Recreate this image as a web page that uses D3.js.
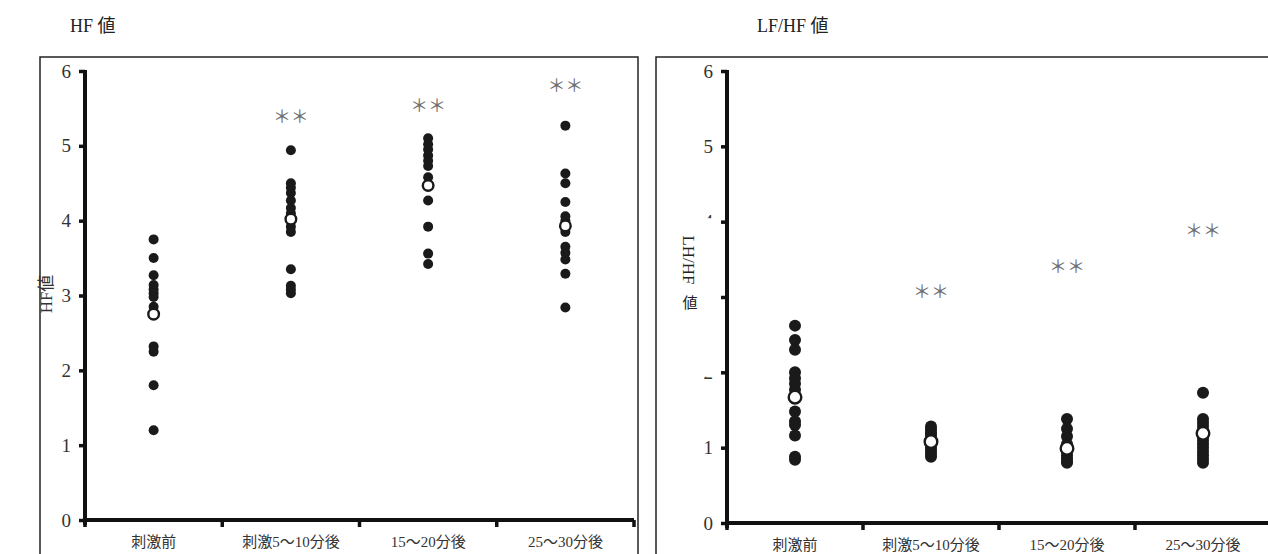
<!DOCTYPE html>
<html>
<head>
<meta charset="utf-8">
<script src="https://cdn.jsdelivr.net/npm/d3@7"></script>
<style>
  body { margin: 0; background: #fff; }
  svg { display: block; font-family: "Liberation Serif", "DejaVu Serif", "Noto Sans CJK JP", serif; }
</style>
</head>
<body>
<svg id="chart" width="1268" height="554"></svg>
<script>
// categories and ticks
const categories = ["刺激前", "刺激5～10分後", "15～20分後", "25～30分後"]
const yTicks = [0, 1, 2, 3, 4, 5, 6]

// HF 値 (individual values per period)
const hfValues = [
  [3.75, 3.50, 3.27, 3.14, 3.08, 3.03, 2.98, 2.85, 2.32, 2.25, 1.80, 1.20],
  [4.94, 4.50, 4.44, 4.37, 4.27, 4.17, 4.10, 3.92, 3.85, 3.35, 3.13, 3.08, 3.03],
  [5.10, 5.02, 4.95, 4.87, 4.80, 4.73, 4.58, 4.27, 3.92, 3.56, 3.42],
  [5.27, 4.63, 4.50, 4.25, 4.06, 4.00, 3.85, 3.65, 3.57, 3.48, 3.29, 2.84]
]
const hfMeans = [2.75, 4.02, 4.47, 3.93]
const hfStars = [null, 5.37, 5.52, 5.79]

// LF/HF 値
const lfhfValues = [
  [2.62, 2.43, 2.30, 2.00, 1.92, 1.85, 1.77, 1.48, 1.35, 1.30, 1.16, 0.88, 0.84],
  [1.28, 1.24, 1.20, 1.17, 1.13, 1.10, 1.05, 1.00, 0.96, 0.92, 0.88],
  [1.38, 1.25, 1.15, 1.05, 0.95, 0.90, 0.86, 0.82, 0.80],
  [1.73, 1.38, 1.33, 1.28, 1.22, 1.15, 1.10, 1.05, 1.00, 0.95, 0.90, 0.85, 0.80]
]
const lfhfMeans = [1.67, 1.08, 0.99, 1.19]
const lfhfStars = [null, 3.05, 3.39, 3.86]

const svg = d3.select("#chart")
const defs = svg.append("defs")

function drawPanel(p) {
  const g = svg.append("g")

  // title
  g.append("text")
    .attr("x", p.titleX).attr("y", 32)
    .attr("font-size", 18).attr("fill", "#222")
    .text(p.title)

  // frame
  g.append("rect")
    .attr("x", p.frame[0]).attr("y", p.frame[1])
    .attr("width", p.frame[2]).attr("height", p.frame[3])
    .attr("fill", "none").attr("stroke", "#222").attr("stroke-width", 1.5)

  const y = d3.scaleLinear().domain([0, 6]).range(p.yRange)
  const x = d3.scaleBand().domain(categories).range(p.xRange)

  // y axis
  const yAxis = g.append("g")
    .attr("transform", `translate(${p.xRange[0]},0)`)
    .call(d3.axisLeft(y).tickValues(yTicks).tickSize(6).tickPadding(8).tickFormat(d3.format("d")))
  yAxis.select(".domain").remove()
  yAxis.append("line")
    .attr("x1", 0).attr("x2", 0)
    .attr("y1", y(6) - 1).attr("y2", y(0) + 5)
    .attr("stroke", "#111").attr("stroke-width", 4)
  yAxis.selectAll(".tick line").attr("stroke", "#111").attr("stroke-width", 3.5)
  yAxis.selectAll(".tick text")
    .attr("font-size", 19).attr("fill", "#333")
    .attr("font-family", "Liberation Serif, DejaVu Serif, serif")

  if (p.hideTick) {
    yAxis.selectAll(".tick").each(function (d) {
      const h = p.hideTick[d]
      if (h === undefined) return
      const t = d3.select(this).select("text")
      if (h === "none") { t.remove(); return }
      const id = `clip-${p.key}-${d}`
      // tick groups are translated, so the clip box is in tick-local units
      defs.append("clipPath").attr("id", id)
        .append("rect")
        .attr("x", -40).attr("width", 40)
        .attr("y", h[0]).attr("height", h[1])
      t.attr("clip-path", `url(#${id})`)
    })
  }

  // x axis
  const xAxis = g.append("g")
    .attr("transform", `translate(0,${y(0)})`)
    .call(d3.axisBottom(x).tickSize(0).tickPadding(16))
  xAxis.select(".domain").remove()
  xAxis.append("line")
    .attr("x1", p.xRange[0] - 2).attr("x2", p.xRange[1])
    .attr("stroke", "#111").attr("stroke-width", 4)
  xAxis.selectAll(".tick text")
    .attr("font-size", 15).attr("fill", "#333")
    .attr("font-family", "Liberation Serif, Noto Sans CJK JP, serif")
  const edges = categories.map(c => x(c)).concat([p.xRange[1]])
  xAxis.selectAll(".edge")
    .data(edges)
    .join("line")
    .attr("class", "edge")
    .attr("x1", d => d).attr("x2", d => d)
    .attr("y1", 0).attr("y2", 7)
    .attr("stroke", "#111").attr("stroke-width", 3.5)

  // y label
  p.drawYLabel(g)

  // individual points
  const pts = []
  p.values.forEach((vals, i) => vals.forEach(v => pts.push({ c: categories[i], v })))
  g.selectAll(".dot")
    .data(pts)
    .join("circle")
    .attr("class", "dot")
    .attr("cx", d => x(d.c) + x.bandwidth() / 2)
    .attr("cy", d => y(d.v))
    .attr("r", p.r)
    .attr("fill", "#1a1a1a")

  // means
  g.selectAll(".mean")
    .data(p.means)
    .join("circle")
    .attr("class", "mean")
    .attr("cx", (d, i) => x(categories[i]) + x.bandwidth() / 2)
    .attr("cy", d => y(d))
    .attr("r", p.r + 0.3)
    .attr("fill", "#fff")
    .attr("stroke", "#1a1a1a")
    .attr("stroke-width", 2.4)

  // significance marks
  g.selectAll(".star")
    .data(p.stars.map((s, i) => ({ s, c: categories[i] })).filter(d => d.s !== null))
    .join("text")
    .attr("class", "star")
    .attr("x", d => x(d.c) + x.bandwidth() / 2)
    .attr("y", d => y(d.s))
    .attr("text-anchor", "middle")
    .attr("dominant-baseline", "middle")
    .attr("font-size", 18)
    .attr("fill", "#6e6e6e")
    .attr("font-family", "Noto Sans CJK JP, sans-serif")
    .text("＊＊")
}

drawPanel({
  key: "hf",
  title: "HF 値",
  titleX: 70,
  frame: [40, 57, 598, 520],
  xRange: [85, 634],
  yRange: [520, 71],
  r: 5,
  values: hfValues,
  means: hfMeans,
  stars: hfStars,
  drawYLabel: g => {
    g.append("text")
      .attr("transform", "translate(52,294) rotate(-90)")
      .attr("text-anchor", "middle")
      .attr("font-size", 17).attr("fill", "#333")
      .text("HF値")
  }
})

drawPanel({
  key: "lfhf",
  title: "LF/HF 値",
  titleX: 757,
  frame: [656, 57, 640, 520],
  xRange: [727, 1271],
  yRange: [523, 71],
  r: 6,
  values: lfhfValues,
  means: lfhfMeans,
  stars: lfhfStars,
  hideTick: { 4: [-8, 4], 3: "none", 2: [4, 3] },
  drawYLabel: g => {
    g.append("text")
      .attr("transform", "translate(683,260) rotate(90)")
      .attr("text-anchor", "middle")
      .attr("font-size", 17).attr("fill", "#222")
      .text("LH/HF")
    g.append("text")
      .attr("x", 690).attr("y", 308)
      .attr("text-anchor", "middle")
      .attr("font-size", 15).attr("fill", "#222")
      .attr("font-family", "Noto Sans CJK JP, sans-serif")
      .text("値")
  }
})
</script>
</body>
</html>
